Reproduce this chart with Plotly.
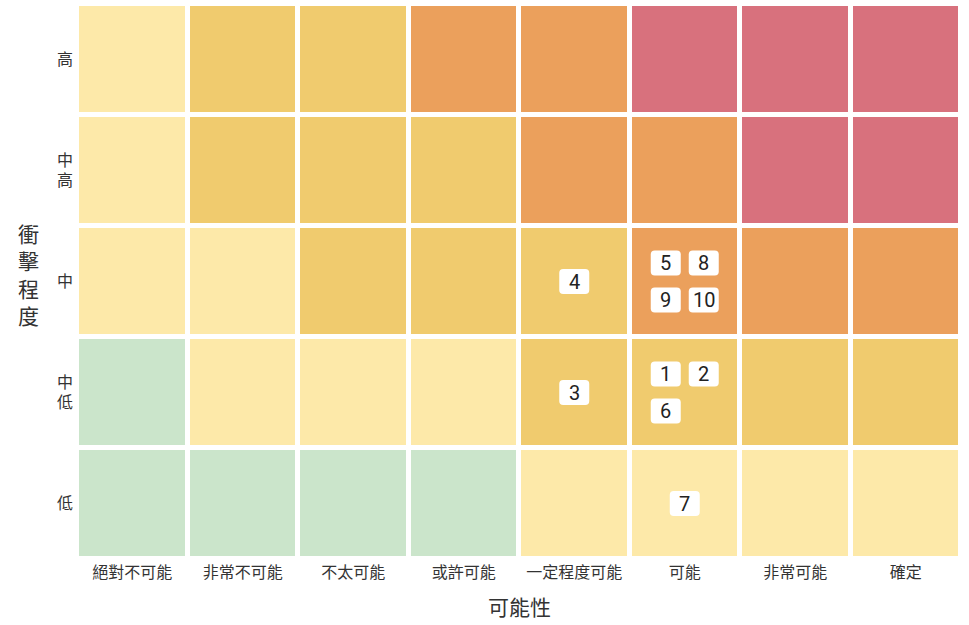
import plotly.graph_objects as go

# ---- data ----
likelihood = ["絕對不可能", "非常不可能", "不太可能", "或許可能", "一定程度可能", "可能", "非常可能", "確定"]
impact = ["低", "中低", "中", "中高", "高"]          # bottom -> top
impact_labels = ["低", "中<br>低", "中", "中<br>高", "高"]

# risk level per cell (rows bottom -> top), 0=green 1=light yellow 2=gold 3=orange 4=red
risk_level = [
    [0, 0, 0, 0, 1, 1, 1, 1],   # 低
    [0, 1, 1, 1, 2, 2, 2, 2],   # 中低
    [1, 1, 2, 2, 2, 3, 3, 3],   # 中
    [1, 2, 2, 2, 3, 3, 4, 4],   # 中高
    [1, 2, 2, 3, 3, 4, 4, 4],   # 高
]
level_colors = ["#CBE5CB", "#FDE9A9", "#F0CB6E", "#EBA05C", "#D8717D"]

# risk items: id, likelihood, impact
item_ids = [1, 2, 3, 4, 5, 6, 7, 8, 9, 10]
item_likelihood = ["可能", "可能", "一定程度可能", "一定程度可能", "可能", "可能", "可能", "可能", "可能", "可能"]
item_impact = ["中低", "中低", "中低", "中", "中", "中低", "低", "中", "中", "中"]

FONT = "Roboto, 'Noto Sans CJK TC', sans-serif"

fig = go.Figure()
fig.add_trace(go.Heatmap(
    x=likelihood, y=impact, z=risk_level,
    zmin=0, zmax=4,
    colorscale=[[i / 4, c] for i, c in enumerate(level_colors)],
    showscale=False, xgap=5, ygap=5, hoverinfo="skip",
))

# group items by cell
cells = {}
for iid, lk, im in zip(item_ids, item_likelihood, item_impact):
    cells.setdefault((lk, im), []).append(iid)

BW, BH, R = 30, 25, 4
PITCH_X, PITCH_Y = 38, 37
shapes = []
annotations = []
for (lk, im), ids in cells.items():
    n = len(ids)
    ncols = 1 if n == 1 else 2
    nrows = (n + ncols - 1) // ncols
    for k, iid in enumerate(ids):
        c = k % ncols
        r = k // ncols
        dx = (c - (ncols - 1) / 2) * PITCH_X
        dy = -(r - (nrows - 1) / 2) * PITCH_Y
        x0, x1 = dx - BW / 2, dx + BW / 2
        y0, y1 = dy - BH / 2, dy + BH / 2
        path = (f"M {x0+R},{y0} L {x1-R},{y0} Q {x1},{y0} {x1},{y0+R} "
                f"L {x1},{y1-R} Q {x1},{y1} {x1-R},{y1} L {x0+R},{y1} "
                f"Q {x0},{y1} {x0},{y1-R} L {x0},{y0+R} Q {x0},{y0} {x0+R},{y0} Z")
        shapes.append(dict(type="path", xref="x", yref="y",
                           xsizemode="pixel", ysizemode="pixel",
                           xanchor=likelihood.index(lk), yanchor=impact.index(im),
                           path=path, fillcolor="white", line=dict(width=0),
                           layer="above"))
        annotations.append(dict(x=lk, y=im, xref="x", yref="y", text=str(iid),
                                showarrow=False, xshift=dx, yshift=dy,
                                font=dict(family=FONT, size=20, color="#222222")))

annotations.append(dict(text="可能性", xref="paper", yref="paper", x=0.5, y=-0.088,
                        xanchor="center", yanchor="middle", showarrow=False,
                        font=dict(family=FONT, size=21, color="#333333")))
annotations.append(dict(text="衝<br>擊<br>程<br>度", xref="paper", yref="paper",
                        x=(28 - 77) / 884, y=0.51, xanchor="center", yanchor="middle",
                        showarrow=False,
                        font=dict(family=FONT, size=21, color="#333333")))

fig.update_layout(
    width=969, height=625,
    margin=dict(l=77, r=8, t=4, b=66),
    paper_bgcolor="white", plot_bgcolor="white",
    font=dict(family=FONT, size=16, color="#333333"),
    shapes=shapes, annotations=annotations,
    xaxis=dict(showgrid=False, zeroline=False, showline=False, ticks="",
               tickfont=dict(size=16, color="#333333"), ticklabelstandoff=2),
    yaxis=dict(showgrid=False, zeroline=False, showline=False, ticks="",
               tickvals=impact, ticktext=impact_labels,
               tickfont=dict(size=16, color="#333333"), ticklabelstandoff=3),
)

fig.write_html("out.html",
               config={"displayModeBar": False},
               post_script="document.body.style.margin='0';document.body.style.overflow='hidden';")
